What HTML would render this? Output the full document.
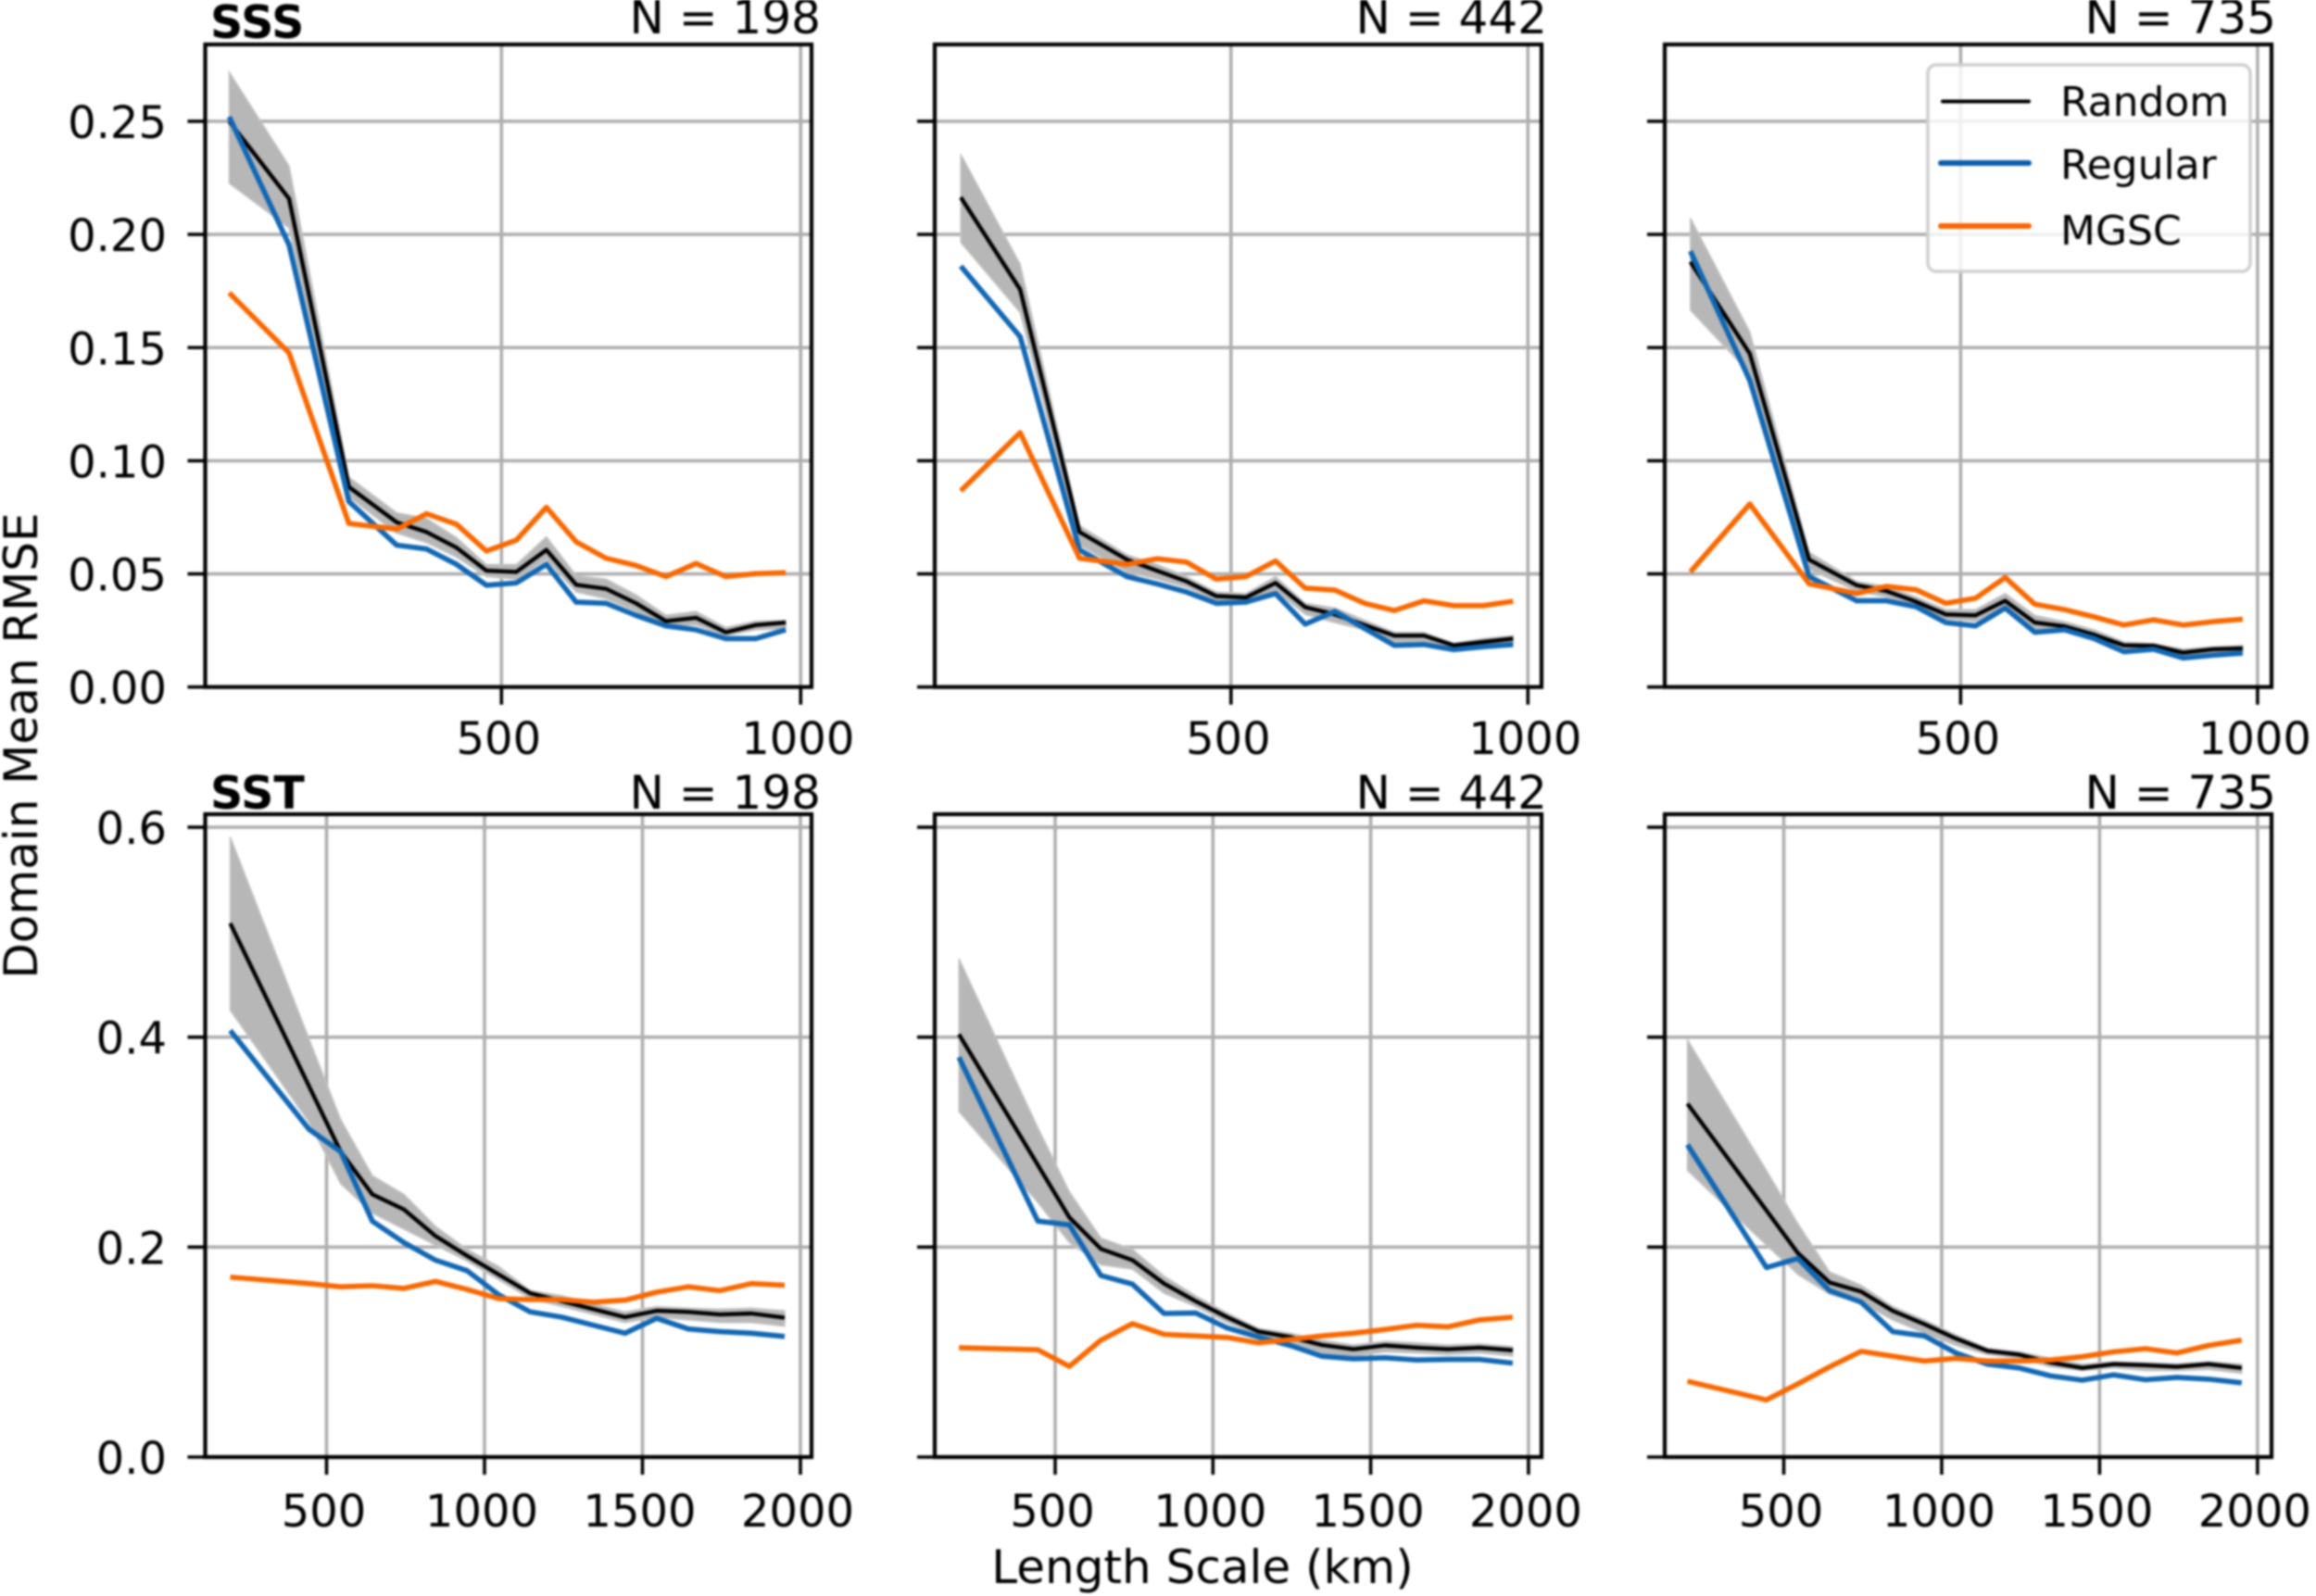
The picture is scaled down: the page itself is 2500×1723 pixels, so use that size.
<!DOCTYPE html>
<html lang="en">
<head>
<meta charset="utf-8">
<title>Domain Mean RMSE vs Length Scale</title>
<style>
html,body{margin:0;padding:0;background:#fff;width:2500px;height:1723px;overflow:hidden}
svg{display:block;filter:blur(1px)}
text{font-family:"DejaVu Sans","Liberation Sans",sans-serif;fill:#000}
</style>
</head>
<body>
<svg id="chart" xmlns="http://www.w3.org/2000/svg" width="2500" height="1723" viewBox="0 0 2500 1723">
<rect width="2500" height="1723" fill="#fff"/>
<g id="panels"></g>
<g>
<text x="227" y="41" font-size="49" font-weight="bold">SSS</text>
<text x="227" y="873" font-size="49" font-weight="bold">SST</text>
<text x="886" y="36" font-size="50" text-anchor="end">N = 198</text>
<text x="1670" y="36" font-size="50" text-anchor="end">N = 442</text>
<text x="2457" y="36" font-size="50" text-anchor="end">N = 735</text>
<text x="886" y="873" font-size="50" text-anchor="end">N = 198</text>
<text x="1670" y="873" font-size="50" text-anchor="end">N = 442</text>
<text x="2457" y="873" font-size="50" text-anchor="end">N = 735</text>
</g>
<text transform="translate(40,805) rotate(-90)" font-size="50" text-anchor="middle">Domain Mean RMSE</text>
<text x="1298" y="1709" font-size="50" text-anchor="middle">Length Scale (km)</text>
<g>
<rect x="2081" y="70" width="348" height="223" rx="9" fill="#fff" fill-opacity="0.82" stroke="#cfcfcf" stroke-width="3.5"/>
<line x1="2097" x2="2190" y1="109.5" y2="109.5" stroke="#000" stroke-width="4" stroke-linecap="round"/>
<text x="2224" y="125" font-size="44">Random</text>
<line x1="2095" x2="2190" y1="176" y2="176" stroke="#0b5cab" stroke-width="6" stroke-linecap="round"/>
<text x="2224" y="193" font-size="44">Regular</text>
<line x1="2095" x2="2190" y1="244" y2="244" stroke="#fb6500" stroke-width="6" stroke-linecap="round"/>
<text x="2224" y="264" font-size="44">MGSC</text>
</g>
</svg>
<script>
const sssLengthScales = [45,145,245,325,375,425,475,525,575,625,675,725,775,825,875,925,975];
const sstLengthScales = [195,445,545,645,745,845,945,1045,1145,1245,1345,1445,1545,1645,1745,1845,1950];

const sssTicksY = [0, 0.05, 0.10, 0.15, 0.20, 0.25];
const sssTickLabelsY = ['0.00','0.05','0.10','0.15','0.20','0.25'];
const sstTicksY = [0, 0.2, 0.4, 0.6];
const sstTickLabelsY = ['0.0','0.2','0.4','0.6'];
const sssTicksX = [500, 1000];
const sstTicksX = [500, 1000, 1500, 2000];

const sss198Random = [.250,.2158,.0884,.0728,.0685,.0616,.0514,.0509,.0606,.0452,.0434,.037,.0291,.0306,.0242,.0274,.0285];
const sss198Regular = [.252,.1954,.082,.0627,.061,.0542,.045,.046,.0542,.0375,.037,.0317,.027,.0253,.0214,.0214,.0253];
const sss198Mgsc = [.1742,.1477,.0723,.0698,.0766,.0719,.0601,.0649,.0794,.0642,.0569,.0537,.0488,.0546,.0488,.0501,.0505];
const sss198Upper = [.2718,.2303,.0927,.077,.0745,.066,.0541,.0541,.0664,.0492,.0477,.0407,.0317,.0334,.0263,.0291,.0295];
const sss198Lower = [.2226,.2029,.084,.068,.0638,.0574,.0488,.0477,.0563,.042,.039,.0334,.027,.0274,.0227,.0253,.0257];

const sss442Random = [.2164,.1757,.0685,.0563,.0514,.0467,.0402,.0396,.046,.0353,.0321,.0274,.0227,.0227,.0184,.0199,.0214];
const sss442Regular = [.186,.1548,.0606,.0488,.0456,.042,.037,.0375,.0413,.0278,.0334,.0259,.0184,.0188,.0165,.0178,.0188];
const sss442Mgsc = [.0867,.1124,.0569,.0542,.0567,.0552,.0477,.0488,.0557,.0437,.0428,.037,.0338,.0381,.036,.036,.0379];
const sss442Upper = [.2354,.1868,.0713,.0584,.0542,.0488,.042,.0413,.0488,.037,.0349,.0295,.0242,.0242,.0193,.0214,.0227];
const sss442Lower = [.1965,.1655,.0627,.0509,.0477,.0441,.0381,.037,.0424,.0321,.0285,.0253,.0199,.0199,.0171,.0178,.0193];

const sss735Random = [.1879,.1473,.0563,.045,.0424,.0377,.0321,.0317,.0381,.0285,.0268,.0231,.0184,.0182,.0152,.0167,.0171];
const sss735Regular = [.1926,.1355,.0488,.0381,.0381,.0355,.0285,.027,.0349,.0242,.0253,.0214,.0156,.0167,.0128,.0141,.015];
const sss735Mgsc = [.0509,.0809,.0456,.0413,.0445,.043,.037,.0392,.0484,.0366,.0342,.031,.0274,.0297,.0274,.0289,.03];
const sss735Upper = [.2072,.1569,.0595,.0467,.0445,.0398,.0342,.0342,.0413,.0317,.0289,.0253,.0199,.0193,.0167,.0178,.0184];
const sss735Lower = [.1665,.1387,.052,.0424,.0398,.036,.03,.0291,.0349,.0257,.0248,.021,.0167,.0167,.0135,.015,.0156];

const sst198Random = [.5085,.353,.2908,.2502,.2359,.2105,.1917,.1739,.1561,.1485,.1408,.1332,.1393,.1383,.1358,.1368,.1327];
const sst198Regular = [.4063,.3122,.2908,.2247,.2044,.1876,.1775,.1546,.1383,.1332,.1256,.118,.1322,.122,.1195,.118,.1149];
const sst198Mgsc = [.1714,.1653,.1622,.1632,.1607,.1673,.1597,.151,.15,.15,.1475,.1495,.1571,.1622,.1586,.1653,.1637];
const sst198Upper = [.5908,.398,.3214,.268,.2502,.2197,.1978,.1815,.1586,.1536,.1459,.1383,.1434,.1419,.1408,.1419,.1393];
const sst198Lower = [.4256,.3188,.2603,.2324,.2171,.2019,.1866,.1688,.151,.1434,.1358,.1281,.1332,.1307,.1281,.1281,.1246];

const sst442Random = [.4027,.2781,.2283,.1983,.1876,.1653,.1485,.1332,.1195,.1144,.1068,.1027,.1063,.1042,.1027,.1042,.1017];
const sst442Regular = [.3808,.2247,.2212,.1729,.1647,.1368,.1373,.123,.1144,.1063,.0961,.0936,.0946,.0925,.093,.093,.0895];
const sst442Mgsc = [.1042,.1022,.0864,.1114,.1271,.1169,.1154,.1139,.1088,.1119,.1154,.118,.1215,.1256,.1241,.1307,.1332];
const sst442Upper = [.4749,.3137,.2527,.2085,.1978,.1724,.1536,.1373,.1225,.118,.1114,.1068,.1103,.1088,.1068,.1078,.1053];
const sst442Lower = [.329,.2425,.2044,.1831,.179,.1561,.1434,.1281,.1164,.1093,.0992,.0961,.1002,.0992,.0976,.0992,.0961];

const sst735Random = [.3366,.2349,.1942,.1663,.1576,.1393,.1266,.1129,.1012,.0976,.09,.0849,.0885,.0875,.0859,.0885,.0849];
const sst735Regular = [.2975,.1805,.1892,.1586,.1475,.1195,.1154,.0992,.0885,.0849,.0773,.0732,.0783,.0737,.0758,.0742,.0707];
const sst735Mgsc = [.0722,.0544,.0697,.0859,.1007,.0961,.0915,.0941,.0915,.0915,.0925,.0956,.1002,.1032,.0992,.1063,.1114];
const sst735Upper = [.3976,.273,.2222,.1764,.1637,.1434,.1307,.1164,.1037,.1002,.0941,.0885,.091,.09,.089,.091,.0885];
const sst735Lower = [.273,.2019,.1739,.1551,.147,.1307,.118,.1063,.0976,.0941,.0859,.0824,.0849,.0824,.0824,.0834,.0798];

const NS = 'http://www.w3.org/2000/svg';
const root = document.getElementById('panels');

const rows = {
  sss: { top: 48, bottom: 741.7, y0: 741.7, ky: 2443, xs: sssLengthScales, ticksX: sssTicksX, ticksY: sssTicksY, labelsY: sssTickLabelsY, xLabelBase: 814 },
  sst: { top: 879, bottom: 1573, y0: 1573, ky: 1133.3, xs: sstLengthScales, ticksX: sstTicksX, ticksY: sstTicksY, labelsY: sstTickLabelsY, xLabelBase: 1648 }
};

const panels = [
  { id:'sss-n198', row:'sss', left:221.5, right:876, x500:541.3, kx:.646, showY:true, random:sss198Random, regular:sss198Regular, mgsc:sss198Mgsc, upper:sss198Upper, lower:sss198Lower },
  { id:'sss-n442', row:'sss', left:1009, right:1664, x500:1328.8, kx:.641, showY:false, random:sss442Random, regular:sss442Regular, mgsc:sss442Mgsc, upper:sss442Upper, lower:sss442Lower },
  { id:'sss-n735', row:'sss', left:1797, right:2452, x500:2116.4, kx:.641, showY:false, random:sss735Random, regular:sss735Regular, mgsc:sss735Mgsc, upper:sss735Upper, lower:sss735Lower },
  { id:'sst-n198', row:'sst', left:221.5, right:876, x500:352.5, kx:.341, showY:true, random:sst198Random, regular:sst198Regular, mgsc:sst198Mgsc, upper:sst198Upper, lower:sst198Lower },
  { id:'sst-n442', row:'sst', left:1009, right:1664, x500:1139, kx:.3406, showY:false, random:sst442Random, regular:sst442Regular, mgsc:sst442Mgsc, upper:sst442Upper, lower:sst442Lower },
  { id:'sst-n735', row:'sst', left:1797, right:2452, x500:1925.5, kx:.3409, showY:false, random:sst735Random, regular:sst735Regular, mgsc:sst735Mgsc, upper:sst735Upper, lower:sst735Lower }
];

function make(parent, tag, attrs) {
  const el = document.createElementNS(NS, tag);
  for (const k in attrs) el.setAttribute(k, attrs[k]);
  parent.appendChild(el);
  return el;
}

function xAxis(p, v) { return p.x500 + (v - 500) * p.kx; }
function yAxis(r, v) { return r.y0 - v * r.ky; }

function linePath(p, r, values) {
  return values.map(function (v, i) {
    return (i ? 'L' : 'M') + xAxis(p, r.xs[i]).toFixed(1) + ' ' + yAxis(r, v).toFixed(1);
  }).join(' ');
}

function bandPath(p, r, upper, lower) {
  const up = upper.map(function (v, i) {
    return (i ? 'L' : 'M') + xAxis(p, r.xs[i]).toFixed(1) + ' ' + yAxis(r, v).toFixed(1);
  });
  const down = lower.map(function (v, i) {
    return 'L' + xAxis(p, r.xs[i]).toFixed(1) + ' ' + yAxis(r, v).toFixed(1);
  }).reverse();
  return up.concat(down).join(' ') + ' Z';
}

panels.forEach(function (p) {
  const r = rows[p.row];
  const g = make(root, 'g', {});
  
  

  r.ticksX.forEach(function (t) {
    const x = xAxis(p, t);
    const grid = make(g, 'line', { x1:x, x2:x, y1:r.top, y2:r.bottom, stroke:'#aeaeae', 'stroke-width':3.6 });
    
    
  });
  r.ticksY.forEach(function (t) {
    const y = yAxis(r, t);
    const grid = make(g, 'line', { x1:p.left, x2:p.right, y1:y, y2:y, stroke:'#aeaeae', 'stroke-width':3.6 });
    
    
  });

  const band = make(g, 'path', { d:bandPath(p, r, p.upper, p.lower), fill:'#b7b7b7', stroke:'#c4c4c4', 'stroke-width':1.5 });
  
  

  const random = make(g, 'path', { d:linePath(p, r, p.random), fill:'none', stroke:'#000', 'stroke-width':4.4, 'stroke-linejoin':'round' });
  
  

  const regular = make(g, 'path', { d:linePath(p, r, p.regular), fill:'none', stroke:'#1167b4', 'stroke-width':5.6, 'stroke-linejoin':'round' });
  
  

  const mgsc = make(g, 'path', { d:linePath(p, r, p.mgsc), fill:'none', stroke:'#f96800', 'stroke-width':5.6, 'stroke-linejoin':'round' });
  
  

  const frame = make(g, 'rect', { x:p.left, y:r.top, width:p.right - p.left, height:r.bottom - r.top, fill:'none', stroke:'#000', 'stroke-width':4.2 });
  
  

  r.ticksX.forEach(function (t) {
    const x = xAxis(p, t);
    const tick = make(g, 'line', { x1:x, x2:x, y1:r.bottom, y2:r.bottom + 19, stroke:'#000', 'stroke-width':3.6 });
    
    
    const label = make(g, 'text', { x:x - 3, y:r.xLabelBase, 'font-size':48, 'text-anchor':'middle' });
    label.textContent = String(t);
    
    
  });

  r.ticksY.forEach(function (t, i) {
    const y = yAxis(r, t);
    const tick = make(g, 'line', { x1:p.left - 19, x2:p.left, y1:y, y2:y, stroke:'#000', 'stroke-width':3.6 });
    
    
    if (p.showY) {
      const label = make(g, 'text', { x:180, y:y + 18, 'font-size':48, 'text-anchor':'end' });
      label.textContent = r.labelsY[i];
      
      
    }
  });
});
</script>
</body>
</html>
